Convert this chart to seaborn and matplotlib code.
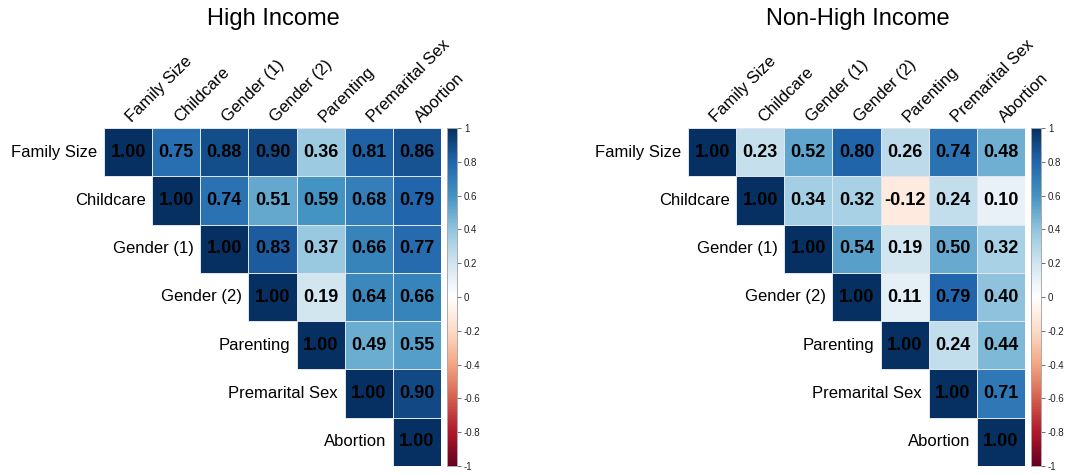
import numpy as np
import pandas as pd
import matplotlib
matplotlib.use("Agg")
import matplotlib.pyplot as plt
from matplotlib.colors import LinearSegmentedColormap, to_rgba
import seaborn as sns

sns.set_theme(style="white")
plt.rcParams["font.family"] = ["Liberation Sans", "DejaVu Sans"]

labels = ["Family Size", "Childcare", "Gender (1)", "Gender (2)",
          "Parenting", "Premarital Sex", "Abortion"]

# upper-triangle rows (diagonal onwards)
high_income = [
    [1.00, 0.75, 0.88, 0.90, 0.36, 0.81, 0.86],
    [1.00, 0.74, 0.51, 0.59, 0.68, 0.79],
    [1.00, 0.83, 0.37, 0.66, 0.77],
    [1.00, 0.19, 0.64, 0.66],
    [1.00, 0.49, 0.55],
    [1.00, 0.90],
    [1.00],
]
non_high_income = [
    [1.00, 0.23, 0.52, 0.80, 0.26, 0.74, 0.48],
    [1.00, 0.34, 0.32, -0.12, 0.24, 0.10],
    [1.00, 0.54, 0.19, 0.50, 0.32],
    [1.00, 0.11, 0.79, 0.40],
    [1.00, 0.24, 0.44],
    [1.00, 0.71],
    [1.00],
]
titles = ["High Income", "Non-High Income"]
cbar_ticks = [-1, -0.8, -0.6, -0.4, -0.2, 0, 0.2, 0.4, 0.6, 0.8, 1]
cbar_ticklabels = ["-1", "-0.8", "-0.6", "-0.4", "-0.2", "0",
                   "0.2", "0.4", "0.6", "0.8", "1"]

cmap = LinearSegmentedColormap.from_list(
    "rdbu_corr",
    ["#67001F", "#B2182B", "#D6604D", "#F4A582", "#FDDBC7", "#FFFFFF",
     "#D1E5F0", "#92C5DE", "#4393C3", "#2166AC", "#053061"], N=200)


def to_frame(rows):
    n = len(labels)
    m = np.full((n, n), np.nan)
    for i, r in enumerate(rows):
        m[i, i:i + len(r)] = r
    return pd.DataFrame(m, index=labels, columns=labels)


W, H = 1066, 475
fig = plt.figure(figsize=(W / 100, H / 100), dpi=100)

panels = [
    (104, 447, 273),
    (688, 1031, 858),
]
top, bottom = 128, 466
grid_col = to_rgba("#dde6ef")

for (gx, cx, tx), rows, title in zip(panels, [high_income, non_high_income], titles):
    ax = fig.add_axes([gx / W, 1 - bottom / H, 337 / W, (bottom - top) / H])
    cax = fig.add_axes([cx / W, 1 - bottom / H, 10 / W, (bottom - top) / H])
    df = to_frame(rows)
    sns.heatmap(df, ax=ax, cbar_ax=cax, cmap=cmap, vmin=-1, vmax=1,
                mask=df.isna(), annot=True, fmt=".2f",
                annot_kws={"fontsize": 13, "fontweight": "bold", "color": "black"},
                linewidths=0.4, linecolor="#dde6ef", square=False,
                cbar_kws={"ticks": cbar_ticks})
    # only outline the filled cells, not the blank lower triangle
    mesh = ax.collections[0]
    vals = np.ma.getmaskarray(mesh.get_array()).ravel()
    edges = np.array([(0, 0, 0, 0) if m else grid_col for m in vals])
    mesh.set_edgecolors(edges)

    ax.set_xticks([])
    ax.set_yticks([])
    ax.set_xlabel("")
    ax.set_ylabel("")
    for i, lab in enumerate(labels):
        ax.text(i - 0.14, i + 0.5, lab, ha="right", va="center",
                fontsize=12, color="black")
        ax.text(i + 0.58, -0.1, lab, ha="left", va="baseline", rotation=45,
                rotation_mode="anchor", fontsize=12, color="black")
    for s in ax.spines.values():
        s.set_visible(False)

    cax.set_yticklabels(cbar_ticklabels)
    cax.tick_params(axis="y", length=3, width=0.6, color="#555555",
                    labelsize=7, pad=2, labelcolor="#222222", right=True)
    for s in cax.spines.values():
        s.set_visible(True)
        s.set_edgecolor("#aaaaaa")
        s.set_linewidth(0.6)

    fig.text(tx / W, 1 - 19 / H, title, ha="center", va="center",
             fontsize=17, color="black")

fig.savefig("out.png", dpi=100)
